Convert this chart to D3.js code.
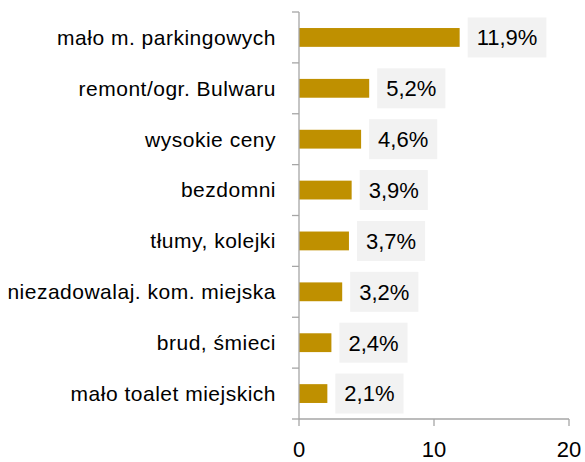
<!DOCTYPE html>
<html>
<head>
<meta charset="utf-8">
<script src="https://cdn.jsdelivr.net/npm/d3@7"></script>
<style>
  html, body { margin: 0; padding: 0; background: #fff; }
  svg { display: block; }
  text { font-family: "Liberation Sans", Arial, sans-serif; fill: #000; }
</style>
</head>
<body>
<svg id="chart" width="585" height="462"></svg>
<script>
// Categories and their shares (percent)
const categories = [
  "mało m. parkingowych",
  "remont/ogr. Bulwaru",
  "wysokie ceny",
  "bezdomni",
  "tłumy, kolejki",
  "niezadowalaj. kom. miejska",
  "brud, śmieci",
  "mało toalet miejskich"
];
const values = [11.9, 5.2, 4.6, 3.9, 3.7, 3.2, 2.4, 2.1];
const valueLabels = ["11,9%", "5,2%", "4,6%", "3,9%", "3,7%", "3,2%", "2,4%", "2,1%"];
const xTicks = [0, 10, 20];

const svg = d3.select("#chart");
const plot = { left: 299, right: 569, top: 12, bottom: 419 };

const x = d3.scaleLinear().domain([0, 20]).range([plot.left, plot.right]);
const y = d3.scaleBand().domain(categories).range([plot.top, plot.bottom]).paddingInner(0.63).paddingOuter(0.315);

const axisColor = "#a6a6a6";

// bars
svg.append("g").selectAll("rect")
  .data(values)
  .join("rect")
  .attr("x", x(0))
  .attr("y", (d, i) => y(categories[i]))
  .attr("width", d => x(d) - x(0))
  .attr("height", y.bandwidth())
  .attr("fill", "#bf9000");

// value labels with light boxes
const lab = svg.append("g").selectAll("g")
  .data(values)
  .join("g")
  .attr("transform", (d, i) => `translate(${x(d) + 8},${y(categories[i]) + y.bandwidth() / 2})`);

lab.append("text")
  .attr("x", 9)
  .attr("dy", "0.36em")
  .style("font-size", "22px")
  .text((d, i) => valueLabels[i]);

lab.each(function () {
  const g = d3.select(this);
  const w = g.select("text").node().getComputedTextLength();
  g.insert("rect", "text")
    .attr("x", 0)
    .attr("y", -20)
    .attr("width", w + 18)
    .attr("height", 40)
    .attr("fill", "#f2f2f2");
});

// vertical category axis with ticks at band boundaries
const yAxis = svg.append("g");
yAxis.append("line")
  .attr("x1", plot.left).attr("x2", plot.left)
  .attr("y1", plot.top).attr("y2", plot.bottom)
  .attr("stroke", axisColor).attr("stroke-width", 1.3);
const bounds = categories.map(c => y(c) - y.step() * y.paddingInner() / 2).concat([plot.bottom]);
yAxis.selectAll("line.tick")
  .data(bounds)
  .join("line")
  .attr("class", "tick")
  .attr("x1", plot.left - 7).attr("x2", plot.left)
  .attr("y1", d => d).attr("y2", d => d)
  .attr("stroke", axisColor).attr("stroke-width", 1.3);
yAxis.selectAll("text")
  .data(categories)
  .join("text")
  .attr("x", plot.left - 23)
  .attr("y", d => y(d) + y.bandwidth() / 2)
  .attr("dy", "0.35em")
  .attr("text-anchor", "end")
  .style("font-size", "21px")
  .style("letter-spacing", "0.5px")
  .text(d => d);

// horizontal value axis
const xAxis = svg.append("g");
xAxis.append("line")
  .attr("x1", plot.left).attr("x2", plot.right)
  .attr("y1", plot.bottom).attr("y2", plot.bottom)
  .attr("stroke", axisColor).attr("stroke-width", 1.3);
xAxis.selectAll("line.tick")
  .data(xTicks)
  .join("line")
  .attr("class", "tick")
  .attr("x1", d => x(d)).attr("x2", d => x(d))
  .attr("y1", plot.bottom).attr("y2", plot.bottom + 7)
  .attr("stroke", axisColor).attr("stroke-width", 1.3);
xAxis.selectAll("text")
  .data(xTicks)
  .join("text")
  .attr("x", d => x(d))
  .attr("y", 457)
  .attr("text-anchor", "middle")
  .style("font-size", "22px")
  .text(d => d);
</script>
</body>
</html>
